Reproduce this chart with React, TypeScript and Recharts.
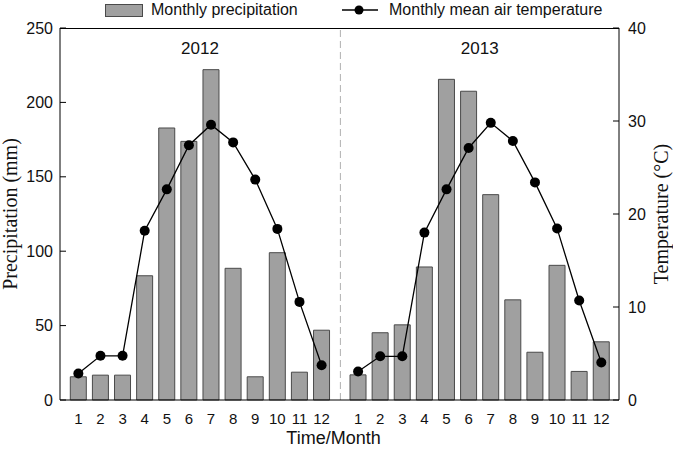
import React from "react"
import { ComposedChart, Bar, Line, XAxis, YAxis, ReferenceLine } from "recharts"

const months = ["1", "2", "3", "4", "5", "6", "7", "8", "9", "10", "11", "12"]
const years = ["2012", "2013"]

// monthly precipitation (mm)
const precip2012 = [15.6, 16.7, 16.7, 83.5, 182.8, 173.8, 222, 88.5, 15.6, 99, 18.7, 46.9]
const precip2013 = [16.9, 45.2, 50.5, 89.4, 215.5, 207.5, 138, 67.3, 32.1, 90.5, 19.2, 39.1]

// monthly mean air temperature (°C)
const temp2012 = [2.85, 4.75, 4.75, 18.2, 22.65, 27.4, 29.6, 27.7, 23.7, 18.4, 10.55, 3.74]
const temp2013 = [3.06, 4.7, 4.7, 18.0, 22.65, 27.1, 29.8, 27.85, 23.4, 18.45, 10.7, 4.03]

const precipTicks = [0, 50, 100, 150, 200, 250]
const tempTicks = [0, 10, 20, 30, 40]

// where month 1 of each year sits on the numeric x axis (leaves a gap between years)
const yearStart = [1, 13.65]
const xDomain = [0.17, 25.45]
const divider = 12.85

const rows = [
  ...months.map((m, i) => ({
    x: yearStart[0] + i,
    month: m,
    precip: precip2012[i],
    t2012: temp2012[i],
    t2013: null as number | null,
  })),
  ...months.map((m, i) => ({
    x: yearStart[1] + i,
    month: m,
    precip: precip2013[i],
    t2012: null as number | null,
    t2013: temp2013[i],
  })),
]

const xTicks = rows.map((r) => r.x)
const monthAt = (v: number) => rows.find((r) => r.x === v)?.month ?? ""

const sans = "'Liberation Sans', Arial, sans-serif"
const serif = "'Liberation Serif', 'Times New Roman', serif"

const barFill = "#a0a0a0"
const barStroke = "#4a4a4a"

const W = 673
const H = 449
const margin = { top: 28, right: 0, bottom: 0, left: 0 }
const leftAxisW = 60
const rightAxisW = 54

function LegendRow() {
  const text: React.CSSProperties = {
    position: "absolute",
    top: 0,
    fontFamily: sans,
    fontSize: 16,
    lineHeight: "20px",
    color: "#111",
    whiteSpace: "nowrap",
  }
  return (
    <>
      <div
        style={{
          position: "absolute",
          left: 105,
          top: 4,
          width: 36,
          height: 11,
          background: barFill,
          border: `1px solid ${barStroke}`,
        }}
      />
      <div style={{ ...text, left: 151 }}>Monthly precipitation</div>
      <svg style={{ position: "absolute", left: 340, top: 0 }} width={40} height={20}>
        <line x1={2} y1={10} x2={38} y2={10} stroke="#000" strokeWidth={1.3} />
        <circle cx={19} cy={10} r={4.5} fill="#000" />
      </svg>
      <div style={{ ...text, left: 389 }}>Monthly mean air temperature</div>
    </>
  )
}

export default function App() {
  const yearMid = yearStart.map((s) => s + (months.length - 1) / 2)
  const plotLeft = margin.left + leftAxisW
  const plotRight = W - margin.right - rightAxisW
  return (
    <div
      style={{
        position: "absolute",
        left: 0,
        top: 0,
        width: W,
        height: H,
        background: "#fff",
      }}
    >
      <ComposedChart width={W} height={H} data={rows} margin={margin}>
        <XAxis
          type="number"
          dataKey="x"
          domain={xDomain}
          allowDataOverflow
          ticks={xTicks}
          interval={0}
          tickFormatter={monthAt}
          tickLine={false}
          tickMargin={7}
          height={49}
          axisLine={{ stroke: "#000" }}
          tick={{ fill: "#111", fontSize: 15, fontFamily: sans }}
          label={{
            value: "Time/Month",
            position: "insideBottom",
            offset: 5,
            dx: -6,
            style: { fill: "#111", fontSize: 18, fontFamily: sans },
          }}
        />
        <YAxis
          yAxisId="left"
          domain={[0, 250]}
          ticks={precipTicks}
          width={leftAxisW}
          tickSize={-6}
          tickMargin={13}
          axisLine={{ stroke: "#000" }}
          tickLine={{ stroke: "#000" }}
          tick={{ fill: "#111", fontSize: 16, fontFamily: sans }}
          label={{
            value: "Precipitation (mm)",
            angle: -90,
            position: "insideLeft",
            offset: 10,
            style: { textAnchor: "middle", fill: "#111", fontSize: 20, fontFamily: serif },
          }}
        />
        <YAxis
          yAxisId="right"
          orientation="right"
          domain={[0, 40]}
          ticks={tempTicks}
          width={rightAxisW}
          tickSize={-6}
          tickMargin={15}
          axisLine={{ stroke: "#000" }}
          tickLine={{ stroke: "#000" }}
          tick={{ fill: "#111", fontSize: 16, fontFamily: sans }}
          label={{
            value: "Temperature (°C)",
            angle: -90,
            position: "insideRight",
            offset: 12,
            style: { textAnchor: "middle", fill: "#111", fontSize: 20, fontFamily: serif },
          }}
        />

        {/* dashed divider between the two years */}
        <ReferenceLine yAxisId="left" x={divider} stroke="#b0b0b0" strokeDasharray="7 4" />
        {years.map((yr, i) => (
          <ReferenceLine
            key={yr}
            yAxisId="left"
            x={yearMid[i]}
            stroke="none"
            label={{
              value: yr,
              position: "insideTop",
              offset: 14,
              style: { fill: "#111", fontSize: 17, fontFamily: sans },
            }}
          />
        ))}

        <Bar
          yAxisId="left"
          dataKey="precip"
          barSize={16}
          fill={barFill}
          stroke={barStroke}
          strokeWidth={1}
          isAnimationActive={false}
        />
        <Line
          yAxisId="right"
          dataKey="t2012"
          stroke="#000"
          strokeWidth={1.3}
          dot={{ r: 5, fill: "#000", stroke: "#000", strokeWidth: 0 }}
          activeDot={false}
          connectNulls={false}
          isAnimationActive={false}
        />
        <Line
          yAxisId="right"
          dataKey="t2013"
          stroke="#000"
          strokeWidth={1.3}
          dot={{ r: 5, fill: "#000", stroke: "#000", strokeWidth: 0 }}
          activeDot={false}
          connectNulls={false}
          isAnimationActive={false}
        />
      </ComposedChart>
      {/* top edge of the plot frame */}
      <div
        style={{
          position: "absolute",
          left: plotLeft,
          top: margin.top,
          width: plotRight - plotLeft,
          height: 0,
          borderTop: "1px solid #000",
        }}
      />
      <LegendRow />
    </div>
  )
}
